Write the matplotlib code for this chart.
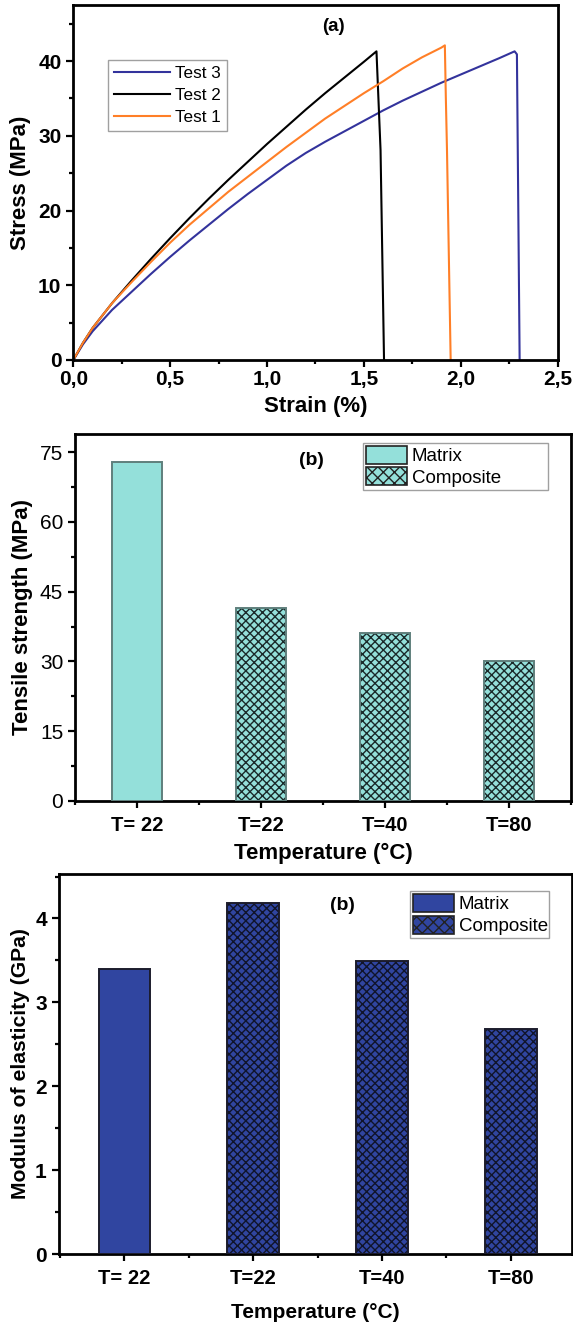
import matplotlib
matplotlib.use("Agg")
import matplotlib.pyplot as plt
from matplotlib.patches import Patch
from matplotlib.ticker import MultipleLocator, FuncFormatter, FixedLocator
import numpy as np

plt.rcParams['font.family'] = ['Liberation Sans', 'DejaVu Sans']
plt.rcParams['hatch.linewidth'] = 1.0

# ---- (a) stress-strain curves ----
strain_t3 = [0, 0.05, 0.1, 0.2, 0.3, 0.4, 0.5, 0.6, 0.7, 0.8, 0.9, 1.0, 1.1, 1.2,
             1.3, 1.4, 1.5, 1.6, 1.7, 1.8, 1.9, 2.0, 2.1, 2.2, 2.278, 2.29, 2.304]
stress_t3 = [0, 2.1, 3.85, 6.7, 9.1, 11.5, 13.8, 16.0, 18.1, 20.2, 22.2, 24.1, 26.0, 27.7,
             29.2, 30.6, 32.0, 33.4, 34.7, 35.9, 37.1, 38.2, 39.3, 40.4, 41.3, 40.9, 0]

strain_t2 = [0, 0.05, 0.1, 0.2, 0.3, 0.4, 0.5, 0.6, 0.7, 0.8, 0.9, 1.0, 1.1, 1.2,
             1.3, 1.4, 1.5, 1.565, 1.586, 1.604]
stress_t2 = [0, 2.3, 4.3, 7.6, 10.6, 13.5, 16.3, 19.0, 21.6, 24.1, 26.5, 28.9, 31.2, 33.5,
             35.7, 37.8, 39.9, 41.3, 28.1, 0]

strain_t1 = [0, 0.05, 0.1, 0.2, 0.3, 0.4, 0.5, 0.6, 0.7, 0.8, 0.9, 1.0, 1.1, 1.2,
             1.3, 1.4, 1.5, 1.6, 1.7, 1.8, 1.9, 1.918, 1.923, 1.929, 1.948]
stress_t1 = [0, 2.3, 4.3, 7.6, 10.4, 13.1, 15.7, 18.1, 20.3, 22.5, 24.5, 26.5, 28.5, 30.4,
             32.3, 34.0, 35.7, 37.3, 39.0, 40.5, 41.8, 42.1, 35.2, 28.1, 0]

# ---- (b) tensile strength, (c) modulus ----
temp_labels = ["T= 22", "T=22", "T=40", "T=80"]
is_composite = [False, True, True, True]
tensile_mpa = [72.9, 41.5, 36.2, 30.2]
modulus_gpa = [3.40, 4.19, 3.49, 2.68]

W, H = 573, 1324
fig = plt.figure(figsize=(W / 100, H / 100), dpi=100)


def px_axes(left, right, top, bottom):
    return fig.add_axes([left / W, 1 - bottom / H, (right - left) / W, (bottom - top) / H])


def style_axes(ax, ytick_bold):
    for sp in ax.spines.values():
        sp.set_linewidth(2.0)
    ax.tick_params(which='both', direction='out', top=False, right=False, width=1.6)
    ax.tick_params(which='major', length=5)
    ax.tick_params(which='minor', length=3)
    for lab in ax.get_xticklabels():
        lab.set_fontweight('bold')
    for lab in ax.get_yticklabels():
        lab.set_fontweight('bold' if ytick_bold else 'normal')


# ---------- panel (a) ----------
axa = px_axes(73.3, 557.6, 5, 360)
axa.plot(strain_t3, stress_t3, color='#33339c', lw=1.5, label='Test 3')
axa.plot(strain_t2, stress_t2, color='black', lw=1.5, label='Test 2')
axa.plot(strain_t1, stress_t1, color='#ff7f27', lw=1.5, label='Test 1')
axa.set_xlim(0, 2.5)
axa.set_ylim(0, 47.5)
axa.xaxis.set_major_locator(MultipleLocator(0.5))
axa.xaxis.set_minor_locator(MultipleLocator(0.25))
axa.yaxis.set_major_locator(MultipleLocator(10))
axa.yaxis.set_minor_locator(MultipleLocator(5))
axa.xaxis.set_major_formatter(FuncFormatter(lambda v, p: f"{v:.1f}".replace('.', ',')))
axa.tick_params(labelsize=15)
axa.tick_params(axis='x', pad=2)
style_axes(axa, True)
axa.set_xlabel("Strain (%)", fontsize=16, fontweight='bold', va='center')
axa.xaxis.set_label_coords(0.5, -0.1315)
axa.set_ylabel("Stress (MPa)", fontsize=16, fontweight='bold', va='center')
axa.yaxis.set_label_coords(-0.108, 0.5)
axa.text(1.344, 44.6, "(a)", fontsize=13.5, fontweight='bold', ha='center', va='center')
lega = axa.legend(loc='upper left', bbox_to_anchor=(0.071, 0.845), borderaxespad=0,
                  fancybox=False, edgecolor='#888888', fontsize=12.3, handlelength=3.3,
                  labelspacing=0.42, handletextpad=0.3, borderpad=0.35)
lega.get_frame().set_linewidth(1.0)


# ---------- bar panels ----------
def bar_panel(ax, values, face, edge, hatch_col, ylim, ymaj, ymin, xlim, ytick_bold,
              ylabel, ylabel_size, ylabel_x, tag, tag_xy, leg_box):
    x = np.arange(1, len(values) + 1)
    for xi, v, comp in zip(x, values, is_composite):
        if comp:
            ax.bar(xi, v, width=0.4, color=face, edgecolor=hatch_col, linewidth=0,
                   hatch='xxxx', zorder=2)
        ax.bar(xi, v, width=0.4, facecolor=face if not comp else 'none',
               edgecolor=edge, linewidth=1.4, zorder=3)
    ax.set_xlim(*xlim)
    ax.set_ylim(*ylim)
    ax.xaxis.set_major_locator(FixedLocator(x))
    ax.xaxis.set_minor_locator(FixedLocator([0.5, 1.5, 2.5, 3.5, 4.5]))
    ax.set_xticklabels(temp_labels)
    ax.yaxis.set_major_locator(MultipleLocator(ymaj))
    ax.yaxis.set_minor_locator(MultipleLocator(ymin))
    ax.tick_params(axis='y', labelsize=15)
    ax.tick_params(axis='x', labelsize=14.5, pad=6)
    style_axes(ax, ytick_bold)
    ax.set_ylabel(ylabel, fontsize=ylabel_size, fontweight='bold', va='center')
    ax.yaxis.set_label_coords(ylabel_x, 0.5)
    ax.text(tag_xy[0], tag_xy[1], tag, fontsize=14, fontweight='bold', ha='center', va='center')
    handles = [Patch(facecolor=face, edgecolor='#222222', linewidth=1.2, label='Matrix'),
               Patch(facecolor=face, edgecolor='#222222', linewidth=1.2, hatch='xxx',
                     label='Composite')]
    x0, top, w = leg_box
    leg = ax.legend(handles=handles, loc='upper left', bbox_to_anchor=(x0, top - 0.3, w, 0.3),
                    mode='expand', borderaxespad=0, fancybox=False, edgecolor='#888888',
                    fontsize=13.5, handlelength=2.2, handleheight=1.1, labelspacing=0.12,
                    handletextpad=0.25, borderpad=0.15)
    leg.get_frame().set_linewidth(1.0)


axb = px_axes(75, 571, 433.5, 801)
bar_panel(axb, tensile_mpa, '#94e0da', '#5f7f7c', '#1a2a2a', (0, 79), 15, 7.5,
          (0.5, 4.5), False, "Tensile strength (MPa)", 16, -0.105,
          "(b)", (2.41, 73.2), (0.581, 0.974, 0.373))
axb.set_xlabel("Temperature (°C)", fontsize=16, fontweight='bold', va='center')
axb.xaxis.set_label_coords(0.5, -0.1415)

axc = px_axes(58.6, 571.5, 874, 1254)
bar_panel(axc, modulus_gpa, '#3045a0', '#1c1c2c', '#10142a', (0, 4.53), 1, 0.5,
          (0.49, 4.47), True, "Modulus of elasticity (GPa)", 15.2, -0.075,
          "(b)", (2.69, 4.16), (0.685, 0.955, 0.271))
axc.set_xlabel("Temperature (°C)", fontsize=15, fontweight='bold', va='center')
axc.xaxis.set_label_coords(0.5, -0.153)

fig.savefig("out.png", dpi=100)
